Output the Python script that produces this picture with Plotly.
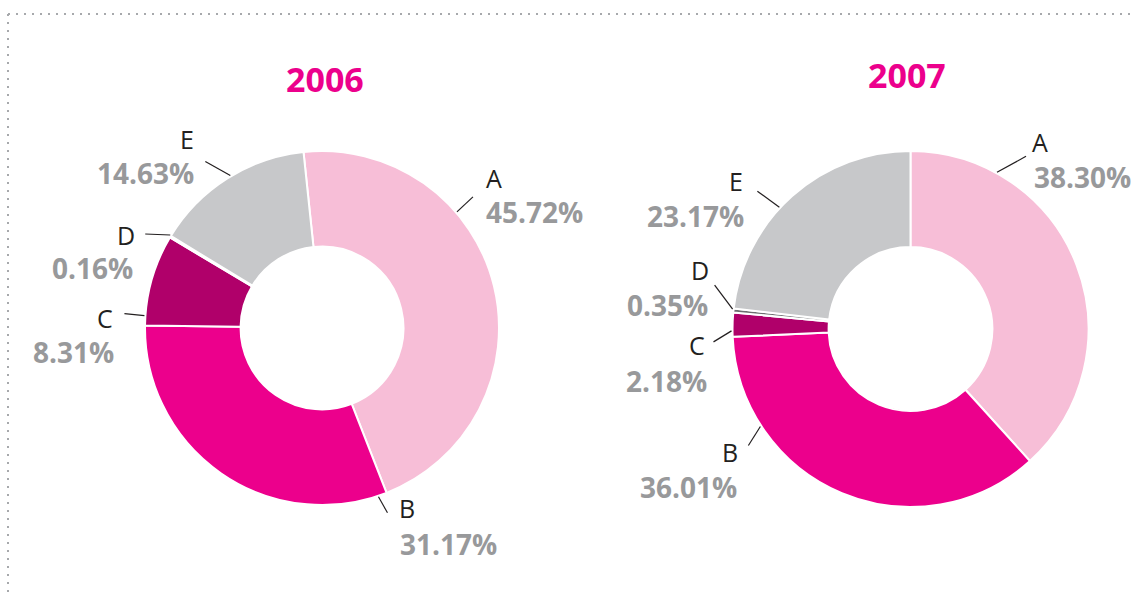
import math
import plotly.graph_objects as go

# ---------------- data ----------------
categories = ["A", "B", "C", "D", "E"]
values_2006 = [45.72, 31.17, 8.31, 0.16, 14.63]
values_2007 = [38.30, 36.01, 2.18, 0.35, 23.17]
years = ["2006", "2007"]

# ---------------- style / layout ----------------
W, H = 1131, 596
colors = ["#F7BED7", "#EC008C", "#B0006A", "#6D6E70", "#C7C8CA"]
title_color = "#EC008C"
pct_color = "#98999B"
letter_color = "#231F20"
FONT = "Open Sans"

# pie geometry in pixels: center x, center y, radius, rotation
pies = [
    dict(cx=322, cy=328, r=177, rot=-6, title_xy=(325, 79)),
    dict(cx=910.5, cy=329, r=178, rot=0, title_xy=(907, 75)),
]

# label placement (layout): rim angle of leader line, leader vector, letter pos, pct pos
label_layout = [
    {  # 2006
        "A": dict(ang=49.3, vec=(16, -15), let=(494, 178), pct=(534, 212)),
        "B": dict(ang=161.5, vec=(9, 16), let=(407, 508), pct=(448, 544)),
        "C": dict(ang=274, vec=(-20, -2), let=(105, 318), pct=(73, 352)),
        "D": dict(ang=301.5, vec=(-25, -1), let=(126, 235), pct=(92, 268)),
        "E": dict(ang=329, vec=(-25, -14), let=(187, 139), pct=(145, 173)),
    },
    {  # 2007
        "A": dict(ang=28.9, vec=(29, -16), let=(1040, 142), pct=(1082, 177)),
        "B": dict(ang=237, vec=(-12, 19), let=(730, 452), pct=(688, 487)),
        "C": dict(ang=269.4, vec=(-18, 11), let=(697, 345), pct=(666, 381)),
        "D": dict(ang=276.4, vec=(-18, -24), let=(700, 270), pct=(667, 305)),
        "E": dict(ang=312.9, vec=(-22, -16), let=(736, 181), pct=(695, 216)),
    },
]


def px(x):
    return x / W


def py(y):
    return 1 - y / H


fig = go.Figure()
shapes = []
annotations = []

for i, (vals, year) in enumerate(zip([values_2006, values_2007], years)):
    g = pies[i]
    cx, cy, r = g["cx"], g["cy"], g["r"]
    fig.add_trace(go.Pie(
        labels=categories,
        values=vals,
        sort=False,
        direction="clockwise",
        rotation=g["rot"],
        hole=0.46,
        marker=dict(colors=colors, line=dict(color="white", width=2)),
        textinfo="none",
        hoverinfo="label+percent",
        showlegend=False,
        domain=dict(x=[px(cx - r), px(cx + r)], y=[py(cy + r), py(cy - r)]),
    ))
    # title
    annotations.append(dict(
        x=px(g["title_xy"][0]), y=py(g["title_xy"][1]), xref="paper", yref="paper",
        text=year, showarrow=False, xanchor="center", yanchor="middle",
        font=dict(family=FONT, size=34, color=title_color, weight=700),
    ))
    for cat, v in zip(categories, vals):
        lay = label_layout[i][cat]
        a = math.radians(lay["ang"])
        x0 = cx + (r + 1) * math.sin(a)
        y0 = cy - (r + 1) * math.cos(a)
        x1 = x0 + lay["vec"][0]
        y1 = y0 + lay["vec"][1]
        shapes.append(dict(
            type="line", xref="paper", yref="paper",
            x0=px(x0), y0=py(y0), x1=px(x1), y1=py(y1),
            line=dict(color=letter_color, width=1.2),
        ))
        annotations.append(dict(
            x=px(lay["let"][0]), y=py(lay["let"][1]), xref="paper", yref="paper",
            text=cat, showarrow=False, xanchor="center", yanchor="middle",
            font=dict(family=FONT, size=25, color=letter_color),
        ))
        annotations.append(dict(
            x=px(lay["pct"][0]), y=py(lay["pct"][1]), xref="paper", yref="paper",
            text=f"{v:.2f}%", showarrow=False, xanchor="center", yanchor="middle",
            font=dict(family=FONT, size=28, color=pct_color, weight=700),
        ))

# dotted frame (top and left)
dot = dict(color="#A7A9AC", width=2, dash="2px,6px")
shapes.append(dict(type="line", xref="paper", yref="paper",
                   x0=px(8), y0=py(14), x1=px(W), y1=py(14), line=dot))
shapes.append(dict(type="line", xref="paper", yref="paper",
                   x0=px(8), y0=py(14), x1=px(8), y1=py(H), line=dot))

fig.update_layout(
    width=W, height=H,
    margin=dict(l=0, r=0, t=0, b=0),
    paper_bgcolor="white",
    plot_bgcolor="white",
    shapes=shapes,
    annotations=annotations,
)

fig.write_html(
    "out.html",
    config={"displayModeBar": False},
    post_script="document.body.style.margin='0px';document.body.style.overflow='hidden';",
)
